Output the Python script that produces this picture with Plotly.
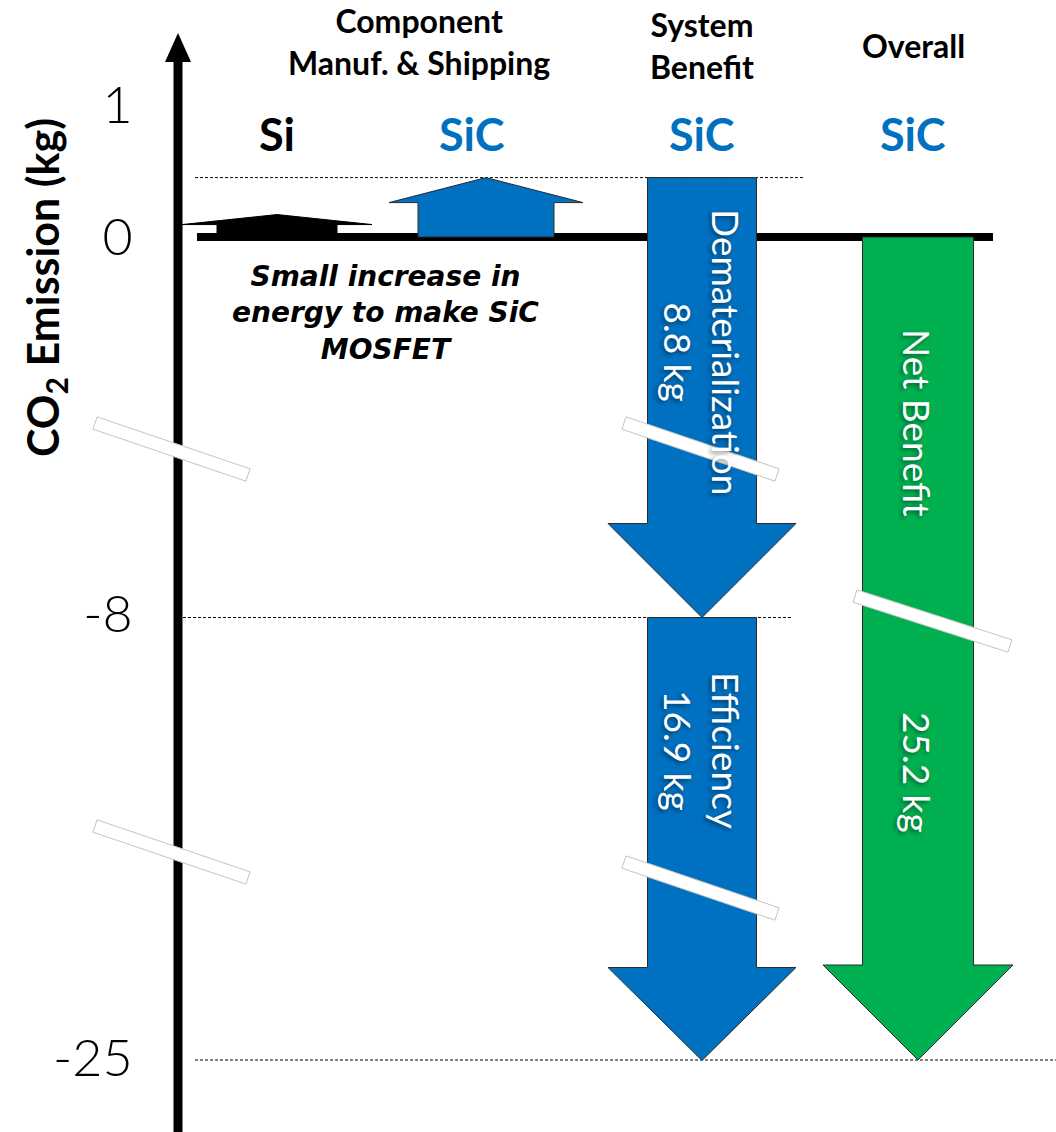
import math
import plotly.graph_objects as go

# ---- data -------------------------------------------------------------
GROUP_TITLES = ["Component<br>Manuf. & Shipping", "System<br>Benefit", "Overall"]
MATERIALS = ["Si", "SiC", "SiC", "SiC"]

# CO2 emission changes per device (kg)
SI_MANUF_KG = 0.17          # Si component manufacture & shipping
SIC_MANUF_KG = 0.45         # SiC component manufacture & shipping
DEMATERIALIZATION_KG = 8.8  # system benefit from fewer materials
EFFICIENCY_KG = 16.9        # system benefit from higher efficiency
NET_BENEFIT_KG = 25.2       # overall net benefit

TICK_VALUES = [1, 0, -8, -25]
TICK_LABELS = ["1", "0", "-8", "-25"]

NOTE_TEXT = "Small increase in<br>energy to make SiC<br>MOSFET"

# ---- broken vertical scale (kg -> screen units, top = 0) ---------------
def broken_scale(kg):
    if kg > -3:                      # upper panel around zero
        return 237 - 132 * kg
    if kg > -16.5:                   # middle panel around -8
        return 614 + (-8 - kg) * 10
    return 1058 + (-25 - kg) * 10    # lower panel around -25


BLUE = "#0070C0"
GREEN = "#00B050"
COL_X = [277, 486, 702, 918]          # column centres

fig = go.Figure()


def polygon(xs, ys, fill, line_color=None, line_width=0):
    fig.add_trace(go.Scatter(
        x=list(xs) + [xs[0]], y=list(ys) + [ys[0]],
        mode="lines", fill="toself", fillcolor=fill,
        line=dict(color=line_color or fill, width=line_width),
        hoverinfo="skip", showlegend=False))


def line(xs, ys, color="black", width=1, dash=None):
    fig.add_trace(go.Scatter(
        x=xs, y=ys, mode="lines",
        line=dict(color=color, width=width, dash=dash),
        hoverinfo="skip", showlegend=False))


def block_arrow(cx, kg_from, kg_to, shaft_half, head_half, head_len, fill,
                outline="#2b2b2b"):
    """Block arrow running from kg_from to kg_to (tip) at column cx."""
    y0 = broken_scale(kg_from)
    y1 = broken_scale(kg_to)
    direction = 1 if y1 > y0 else -1
    yh = y1 - direction * head_len
    xs = [cx - shaft_half, cx + shaft_half, cx + shaft_half, cx + head_half,
          cx, cx - head_half, cx - shaft_half]
    ys = [y0, y0, yh, yh, y1, yh, yh]
    polygon(xs, ys, fill, outline, 1)


def break_mark(x0, y0, x1, y1, thick=13):
    ang = math.atan2(y1 - y0, x1 - x0)
    nx, ny = -math.sin(ang) * thick / 2, math.cos(ang) * thick / 2
    xs = [x0 - nx, x1 - nx, x1 + nx, x0 + nx]
    ys = [y0 - ny, y1 - ny, y1 + ny, y0 + ny]
    polygon(xs, ys, "white", "#c4c4c4", 1)


# vertical axis with arrow head
AXIS_X = 178
line([AXIS_X, AXIS_X], [1132, 58], width=9)
polygon([AXIS_X - 13, AXIS_X + 13, AXIS_X], [62, 62, 33], "black")

# reference dashed levels
y_sic = broken_scale(SIC_MANUF_KG)
y_mid = broken_scale(SIC_MANUF_KG - DEMATERIALIZATION_KG)
y_net = broken_scale(-NET_BENEFIT_KG)
line([195, 803], [y_sic, y_sic], width=1, dash="3px,2px")
line([183, 793], [y_mid, y_mid], width=1, dash="3px,2px")
line([195, 1056], [y_net, y_net], width=1, dash="3px,2px")

# zero baseline
y0 = broken_scale(0)
line([197, 993], [y0, y0], width=8)

# component manufacture arrows
block_arrow(COL_X[0], 0, SI_MANUF_KG, 60, 95, 10, "black", "black")
block_arrow(COL_X[1], 0, SIC_MANUF_KG, 68, 97, 25, BLUE)

# system benefit arrows
demat_end = SIC_MANUF_KG - DEMATERIALIZATION_KG
block_arrow(COL_X[2], SIC_MANUF_KG, demat_end, 54.5, 94, 94, BLUE)
block_arrow(COL_X[2], demat_end, demat_end - EFFICIENCY_KG, 54.5, 94, 93, BLUE)

# overall arrow
block_arrow(COL_X[3], 0, -NET_BENEFIT_KG, 55.5, 95, 95, GREEN)

# axis break marks
break_mark(95, 423, 248, 475)
break_mark(95, 826, 248, 878)
break_mark(624, 423, 777, 475)
break_mark(624, 862, 777, 914)
break_mark(855, 596, 1010, 646)

# ---- text -------------------------------------------------------------
ann = []
HEAD_FONT = dict(family="Lato", size=32, color="black", weight="bold")
ann.append(dict(x=419, y=41, text=GROUP_TITLES[0], font=HEAD_FONT))
ann.append(dict(x=702, y=45, text=GROUP_TITLES[1], font=HEAD_FONT))
ann.append(dict(x=913, y=45, text=GROUP_TITLES[2], font=HEAD_FONT))

for cx, name in zip([277, 472, 702, 913], MATERIALS):
    ann.append(dict(x=cx, y=134, text=name,
                    font=dict(family="Lato", size=45, weight="bold",
                              color="black" if name == "Si" else BLUE)))

ann.append(dict(x=385, y=313, text=NOTE_TEXT,
                font=dict(family="DejaVu Sans", size=28, weight="bold",
                          style="italic", color="black")))

IN_FONT = dict(family="Lato", size=37, color="white",
               shadow="2px 2px 4px rgba(0,0,0,0.45)")
ann.append(dict(x=703, y=352, textangle=90, font=IN_FONT,
                text=f"Dematerialization<br>{DEMATERIALIZATION_KG} kg"))
ann.append(dict(x=703, y=750, textangle=90, font=IN_FONT,
                text=f"Efficiency<br>{EFFICIENCY_KG} kg"))
ann.append(dict(x=918, y=422, textangle=90, font=IN_FONT, text="Net Benefit"))
ann.append(dict(x=918, y=772, textangle=90, font=IN_FONT,
                text=f"{NET_BENEFIT_KG} kg"))

ann.append(dict(x=45, y=288, textangle=-90,
                text="CO<sub>2</sub> Emission (kg)",
                font=dict(family="Lato", size=43, weight="bold", color="black")))

for a in ann:
    a.update(xref="x", yref="y", showarrow=False, align="center")

fig.update_layout(
    width=1056, height=1132,
    margin=dict(l=0, r=0, t=0, b=0),
    paper_bgcolor="white", plot_bgcolor="white",
    annotations=ann,
    xaxis=dict(range=[0, 1056], visible=False, fixedrange=True),
    yaxis=dict(
        range=[1132, 0], anchor="free", position=AXIS_X / 1056, side="left",
        tickmode="array",
        tickvals=[broken_scale(v) for v in TICK_VALUES],
        ticktext=TICK_LABELS,
        ticks="outside", ticklen=35, tickcolor="rgba(0,0,0,0)",
        tickfont=dict(family="Lato", size=52, weight=300, color="black"),
        showline=False, showgrid=False, zeroline=False, fixedrange=True,
    ),
)

fig.write_html("out.html")
